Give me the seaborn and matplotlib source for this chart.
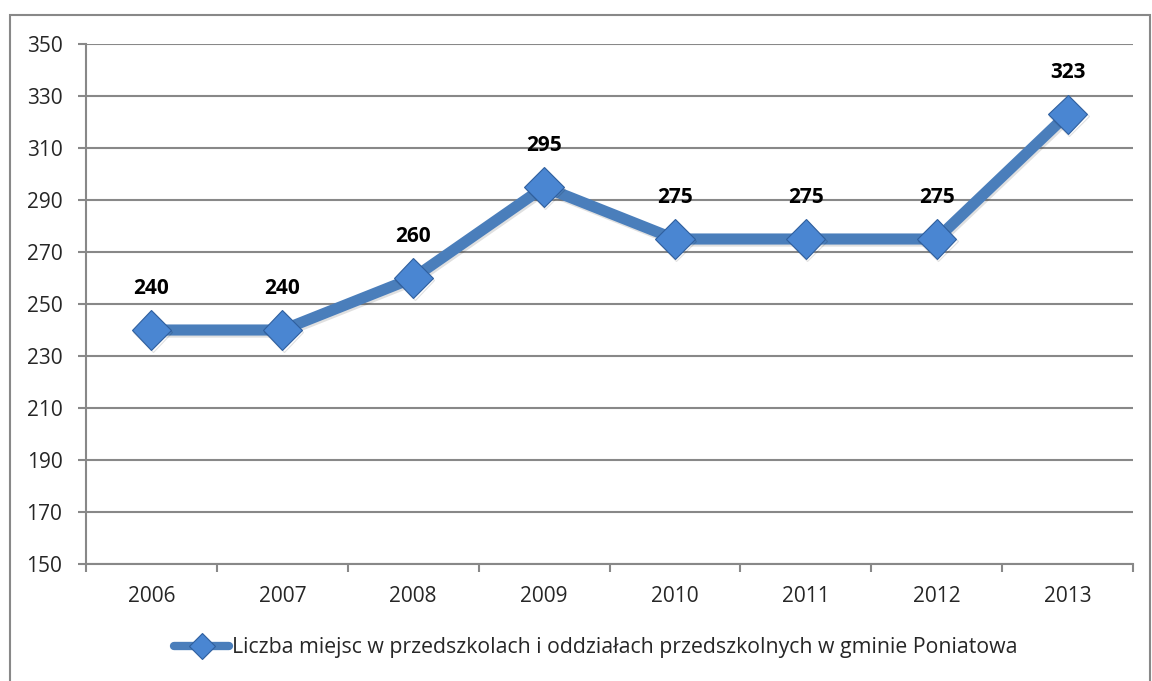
import matplotlib

matplotlib.use("Agg")
import matplotlib.pyplot as plt
import matplotlib.patheffects as pe
import numpy as np
import seaborn as sns
from matplotlib.lines import Line2D
from matplotlib.patches import Rectangle

# ───────────────────────────────────────────────────────────────
# Data
# ───────────────────────────────────────────────────────────────
years = ["2006", "2007", "2008", "2009", "2010", "2011", "2012", "2013"]
places = [240, 240, 260, 295, 275, 275, 275, 323]
series_label = "Liczba miejsc w przedszkolach i oddziałach przedszkolnych w gminie Poniatowa"
y_ticks = [150, 170, 190, 210, 230, 250, 270, 290, 310, 330, 350]

# ───────────────────────────────────────────────────────────────
# Style
# ───────────────────────────────────────────────────────────────
LINE_COLOR = "#4A7EBB"
MARKER_FACE = "#4A86D2"
MARKER_EDGE = "#2F5F9E"
GRID_COLOR = "#888888"
FONT = ["Open Sans", "DejaVu Sans"]
FS = 15

sns.set_style("white")
plt.rcParams["font.family"] = FONT

W, H = 1152, 681
fig = plt.figure(figsize=(W / 100, H / 100), dpi=100)
ax = fig.add_axes([86 / W, 1 - 564 / H, (1133 - 86) / W, (564 - 44) / H])

sns.lineplot(
    x=years,
    y=places,
    ax=ax,
    color=LINE_COLOR,
    linewidth=8,
    marker="D",
    markersize=20,
    markerfacecolor=MARKER_FACE,
    markeredgecolor=MARKER_EDGE,
    markeredgewidth=0.8,
    legend=False,
    zorder=3,
)
ax.lines[0].set_path_effects(
    [pe.SimpleLineShadow(offset=(1, -1.5), alpha=0.12, shadow_color="black"), pe.Normal()]
)

# value labels
for i, v in enumerate(places):
    ax.annotate(
        str(v),
        (i, v),
        xytext=(0, 30),
        textcoords="offset points",
        ha="center",
        va="center",
        fontsize=FS,
        fontweight="bold",
        color="black",
    )

# axes
ax.set_xlim(-0.5, len(years) - 0.5)
ax.set_ylim(150, 350)
ax.set_yticks(y_ticks)
ax.set_xticks(range(len(years)))
ax.set_xticklabels(years)
ax.set_xticks(np.arange(-0.5, len(years), 1), minor=True)
ax.tick_params(axis="x", which="major", bottom=True, length=0, pad=16, labelsize=FS)
ax.tick_params(axis="x", which="minor", bottom=True, length=6, width=1.5,
               color=GRID_COLOR, direction="out")
ax.tick_params(axis="y", left=True, length=6, width=1.5, color=GRID_COLOR, pad=11,
               labelsize=FS, direction="out")
ax.set_xlabel("")
ax.set_ylabel("")

ax.grid(axis="y", color=GRID_COLOR, linewidth=1.5)
ax.set_axisbelow(True)
for side in ["top", "right"]:
    ax.spines[side].set_visible(False)
for side in ["left", "bottom"]:
    ax.spines[side].set_color(GRID_COLOR)
    ax.spines[side].set_linewidth(1.5)

legend_handle = Line2D(
    [], [],
    color=LINE_COLOR,
    linewidth=6,
    marker="D",
    markersize=13,
    markerfacecolor=MARKER_FACE,
    markeredgecolor=MARKER_EDGE,
    markeredgewidth=0.8,
    solid_capstyle="round",
)
ax.legend(
    handles=[legend_handle],
    labels=[series_label],
    loc="center",
    bbox_to_anchor=(596 / W, (681 - 648) / H),
    bbox_transform=fig.transFigure,
    frameon=False,
    fontsize=15.3,
    handlelength=2.6,
    handletextpad=0.15,
)

# outer chart border
fig.patches.append(
    Rectangle(
        (10 / W, -0.05),
        (1150 - 10) / W,
        1.05 - 15 / H,
        transform=fig.transFigure,
        fill=False,
        edgecolor=GRID_COLOR,
        linewidth=1.5,
    )
)

fig.savefig("out.png", dpi=100)
